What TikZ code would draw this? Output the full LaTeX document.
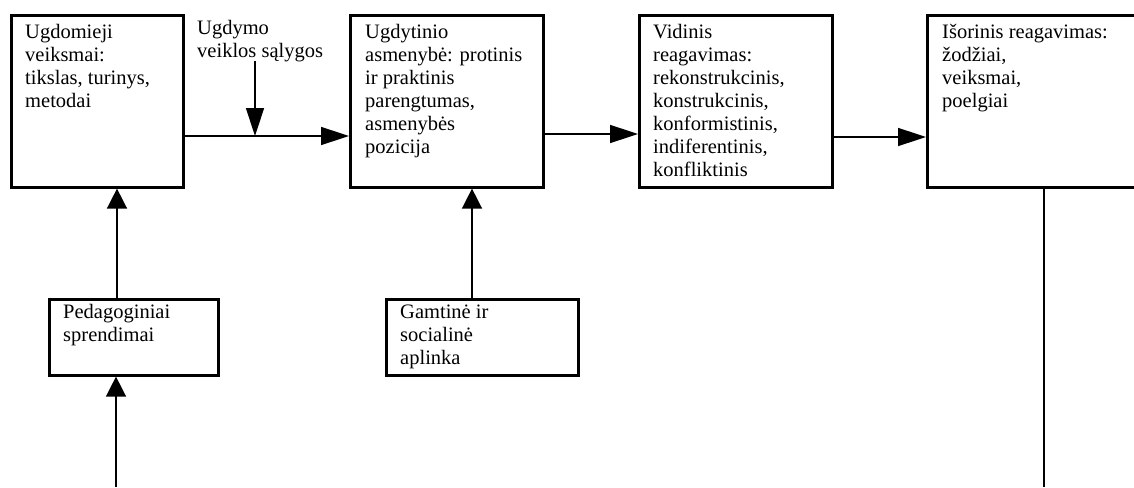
\documentclass[tikz,border=0pt]{standalone}
\usepackage{fontspec}
\setmainfont{Liberation Serif}
\usetikzlibrary{arrows.meta}
\begin{document}
\begin{tikzpicture}[x=1pt,y=-1pt,
  box/.style={draw,line width=2.6pt,rectangle,anchor=north west,inner sep=0pt},
  txt/.style={anchor=north west,inner sep=0pt,align=left,font=\fontsize{20.5}{23}\selectfont},
  conn/.style={line width=1.5pt},
  bigtip/.style={-{Triangle[length=28pt,width=18pt]}},
  smalltip/.style={-{Triangle[length=20pt,width=20pt]}}]
\useasboundingbox (0,0) rectangle (1134,487);
\clip (0,0) rectangle (1134,487);
% boxes
\node[box,minimum width=172pt,minimum height=172pt] (b1) at (10,14) {};
\node[box,minimum width=193pt,minimum height=172pt] (b2) at (349,14) {};
\node[box,minimum width=193pt,minimum height=172pt] (b3) at (638,14) {};
\node[box,minimum width=240pt,minimum height=172pt] (b4) at (926,14) {};
\node[box,minimum width=169pt,minimum height=76pt] (b5) at (48,298) {};
\node[box,minimum width=192pt,minimum height=76pt] (b6) at (385,298) {};
% texts
\node[txt] (t1) at ([shift={(15pt,-8pt)}]b1.north west) {\strut Ugdomieji\\veiksmai:\\tikslas, turinys,\\metodai};
\node[txt] (t2) at ([shift={(16pt,-8pt)}]b2.north west) {\strut Ugdytinio\\asmenybė: protinis\\ir praktinis\\parengtumas,\\asmenybės\\pozicija};
\node[txt] (t3) at ([shift={(15pt,-8pt)}]b3.north west) {\strut Vidinis\\reagavimas:\\rekonstrukcinis,\\konstrukcinis,\\konformistinis,\\indiferentinis,\\konfliktinis};
\node[txt] (t4) at ([shift={(16pt,-8pt)}]b4.north west) {\strut Išorinis reagavimas:\\žodžiai,\\veiksmai,\\poelgiai};
\node[txt] (t5) at ([shift={(15pt,-4pt)}]b5.north west) {\strut Pedagoginiai\\sprendimai};
\node[txt] (t6) at ([shift={(15pt,-4pt)}]b6.north west) {\strut Gamtinė ir\\socialinė\\aplinka};
\node[txt] (lab) at (197,18) {\strut Ugdymo\\veiklos sąlygos};
% coordinates
\coordinate (h1) at (0,136);
\coordinate (h2) at (0,134);
\coordinate (h3) at (0,137);
\coordinate (vtop) at (255,61);
\coordinate (vbot) at (255,136);
\coordinate (x5) at (117,0);
\coordinate (pbot) at (116,487);
\coordinate (x6) at (472,0);
\coordinate (x4) at (1044,0);
\coordinate (ebot) at (1044,487);
% connectors
\draw[conn,bigtip] (b1.east |- h1) -- (b2.west |- h1);
\draw[conn,bigtip] (vtop) -- (vbot);
\draw[conn,bigtip] (b2.east |- h2) -- (b3.west |- h2);
\draw[conn,bigtip] (b3.east |- h3) -- (b4.west |- h3);
\draw[conn,smalltip] (b5.north -| x5) -- (b1.south -| x5);
\draw[conn,smalltip] (pbot) -- (b5.south -| pbot);
\draw[conn,smalltip] (b6.north -| x6) -- (b2.south -| x6);
\draw[line width=2.2pt] (b4.south -| x4) -- (ebot);
\end{tikzpicture}
\end{document}
